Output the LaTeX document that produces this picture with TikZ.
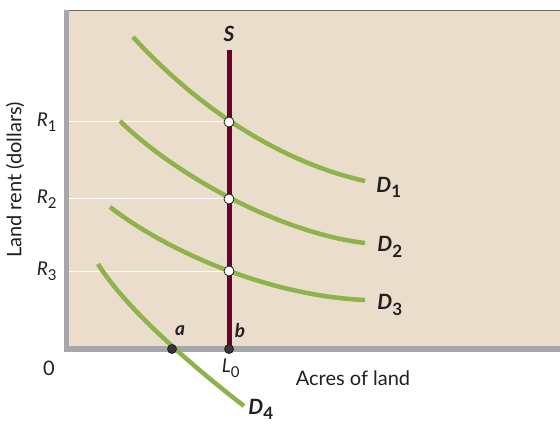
\documentclass[tikz,border=0pt]{standalone}
\usepackage{fontspec}
\setmainfont{Lato}
\definecolor{panel}{HTML}{EBDDCB}
\definecolor{axisgray}{HTML}{A7A7AB}
\definecolor{topline}{HTML}{6E6862}
\definecolor{supply}{HTML}{6B0030}
\definecolor{demand}{HTML}{8DB34A}
\definecolor{ink}{HTML}{231F20}
\tikzset{
  dcurve/.style={demand, line width=4.5pt},
  gridline/.style={white, line width=1pt},
  eqpt/.style={circle, draw=ink, fill=white, line width=0.8pt, minimum size=10pt, inner sep=0pt},
  blackpt/.style={circle, draw=ink, fill=ink!90, line width=0.8pt, minimum size=9pt, inner sep=0pt},
  dlabel/.style={font=\fontsize{21}{23}\selectfont\bfseries\itshape, text=ink},
  ablabel/.style={font=\fontsize{19}{21}\selectfont\bfseries\itshape, text=ink},
  rlabel/.style={font=\fontsize{19}{21}\selectfont\itshape, text=ink},
  txt/.style={font=\fontsize{20}{22}\selectfont, text=ink}
}
\newcommand{\dsub}[1]{\textsubscript{\fontsize{17}{17}\selectfont\bfseries\upshape #1}}
\newcommand{\rsub}[1]{\textsubscript{\fontsize{15}{15}\selectfont\upshape #1}}
\begin{document}
\begin{tikzpicture}[x=1pt,y=-1pt]
\useasboundingbox (0,0) rectangle (560,425);
% panel
\fill[panel] (64,10) rectangle (560,349);
\draw[topline, line width=1.6pt] (64,10.5) -- (560,10.5);
\fill[axisgray] (64,10) rectangle (69,352);
\fill[axisgray] (64,346) rectangle (560,352);
% coordinates
\coordinate (E1) at (229,122);
\coordinate (E2) at (229,199);
\coordinate (E3) at (229,271);
\coordinate (Ax1) at (69,122);
\coordinate (Ax2) at (69,199);
\coordinate (Ax3) at (69,271);
\coordinate (Stop) at (229,50);
\coordinate (Sbot) at (229,349);
\coordinate (Apt) at (172,349);
% grid lines
\draw[gridline] (Ax1) -- (E1);
\draw[gridline] (Ax2) -- (E2);
\draw[gridline] (Ax3) -- (E3);
% demand curves
\coordinate (D1s) at (133,37); \coordinate (D1e) at (365,181);
\coordinate (D2s) at (120,121); \coordinate (D2e) at (365,243);
\coordinate (D3s) at (110,207); \coordinate (D3e) at (365,300);
\coordinate (D4s) at (98,264); \coordinate (D4e) at (244,406);
\draw[dcurve] (D1s) .. controls (198,108) and (280,162) .. (D1e);
\draw[dcurve] (D2s) .. controls (175,175) and (280,233) .. (D2e);
\draw[dcurve] (D3s) .. controls (168,252) and (270,296) .. (D3e);
\draw[dcurve] (D4s) .. controls (128,312) and (200,372) .. (D4e);
% supply
\draw[supply, line width=5pt] (Stop) -- (Sbot);
% points
\node[eqpt] (p1) at (E1) {};
\node[eqpt] (p2) at (E2) {};
\node[eqpt] (p3) at (E3) {};
\node[blackpt] (pa) at (Apt) {};
\node[blackpt] (pb) at (Sbot) {};
% labels
\node[dlabel] (S) at (229,34) {S};
\node[dlabel] (ld1) at (389,187) {D\dsub{1}};
\node[dlabel] (ld2) at (390,247) {D\dsub{2}};
\node[dlabel] (ld3) at (390,305) {D\dsub{3}};
\node[dlabel] (ld4) at (261,409) {D\dsub{4}};
\node[ablabel] (la) at (180,331) {a};
\node[ablabel] (lb) at (240,331) {b};
\node[rlabel] (r1) at (47,122) {R\rsub{1}};
\node[rlabel] (r2) at (47,199) {R\rsub{2}};
\node[rlabel] (r3) at (47,271) {R\rsub{3}};
\node[rlabel] (l0) at (231,368) {L\rsub{0}};
\node[txt] (zero) at (49,368) {0};
\node[txt] (xlab) at (353,378) {Acres of land};
\node[txt, rotate=90] (ylab) at (15,180) {Land rent (dollars)};
\end{tikzpicture}
\end{document}
